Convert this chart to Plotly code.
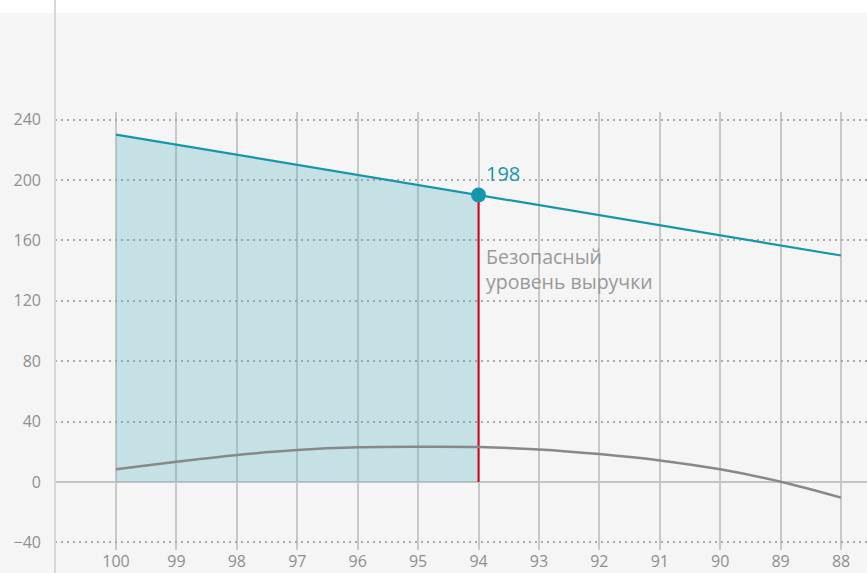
import plotly.graph_objects as go

x_vals = [100, 99, 98, 97, 96, 95, 94, 93, 92, 91, 90, 89, 88]
revenue = [230, 223.3, 216.7, 210, 203.3, 196.7, 190, 183.3, 176.7, 170, 163.3, 156.7, 150]
profit = [8.4, 13.4, 17.9, 21.2, 23.0, 23.4, 23.2, 21.6, 18.5, 14.3, 8.4, 0.2, -10.3]
safe_x = 94
safe_label = "198"
safe_text = "Безопасный<br>уровень выручки"
y_ticks = [-40, 0, 40, 80, 120, 160, 200, 240]

teal = "#1596ab"
font = "Open Sans"
tick_color = "#8f8f8f"

safe_idx = x_vals.index(safe_x)
safe_y = revenue[safe_idx]

fig = go.Figure()
fig.add_trace(go.Scatter(
    x=x_vals[:safe_idx + 1], y=revenue[:safe_idx + 1], mode="none",
    fill="tozeroy", fillcolor="rgba(57,169,185,0.25)", hoverinfo="skip"))
fig.add_trace(go.Scatter(
    x=[safe_x, safe_x], y=[0, safe_y], mode="lines",
    line=dict(color="#d9001b", width=2), hoverinfo="skip"))
fig.add_trace(go.Scatter(
    x=x_vals, y=profit, mode="lines", line_shape="spline",
    line=dict(color="#888888", width=2.5)))
fig.add_trace(go.Scatter(
    x=x_vals, y=revenue, mode="lines", line=dict(color=teal, width=2.2)))
fig.add_trace(go.Scatter(
    x=[safe_x], y=[safe_y], mode="markers",
    marker=dict(color=teal, size=15)))

fig.add_annotation(x=safe_x, y=204.6, text=safe_label, showarrow=False,
                   xanchor="left", yanchor="middle", xshift=5,
                   font=dict(family=font, size=20, color=teal))
fig.add_annotation(x=safe_x, y=141.3, text=safe_text, showarrow=False,
                   xanchor="left", yanchor="middle", align="left", xshift=5,
                   font=dict(family=font, size=19.5, color="#999999"))

# white strip at top and left vertical rule
fig.add_shape(type="rect", xref="paper", yref="paper", x0=-0.2, x1=1.2,
              y0=1 + (112 - 13) / 438, y1=1.4, fillcolor="white",
              line_width=0, layer="below")
fig.add_shape(type="line", xref="paper", yref="paper", x0=0, x1=0,
              y0=-0.2, y1=1.4, line=dict(color="#d8d8d8", width=2))

fig.update_layout(
    width=867, height=573,
    margin=dict(l=55, r=0, t=112, b=23),
    paper_bgcolor="#f5f5f5", plot_bgcolor="#f5f5f5",
    showlegend=False,
    font=dict(family=font, color=tick_color, size=16),
)
fig.update_xaxes(
    range=[101.01, 87.57], tickmode="array", tickvals=x_vals,
    ticktext=[str(v) for v in x_vals],
    showgrid=True, gridcolor="#c8c8c8", gridwidth=1.5,
    zeroline=False, showline=False, ticks="", ticklabelstandoff=0,
    tickfont=dict(family=font, size=16, color=tick_color),
)
fig.update_yaxes(
    range=[-45, 245], tickmode="array", tickvals=y_ticks,
    ticktext=[str(v).replace("-", "\u2212") for v in y_ticks],
    showgrid=True, gridcolor="#aaaaaa", gridwidth=1.5, griddash="2px,4px",
    zeroline=True, zerolinecolor="#c4c4c4", zerolinewidth=2,
    showline=False, ticks="", ticklabelstandoff=13,
    tickfont=dict(family=font, size=16, color=tick_color),
)

fig.write_html("out.html", config={"displayModeBar": False},
               post_script="document.body.style.margin='0';")
